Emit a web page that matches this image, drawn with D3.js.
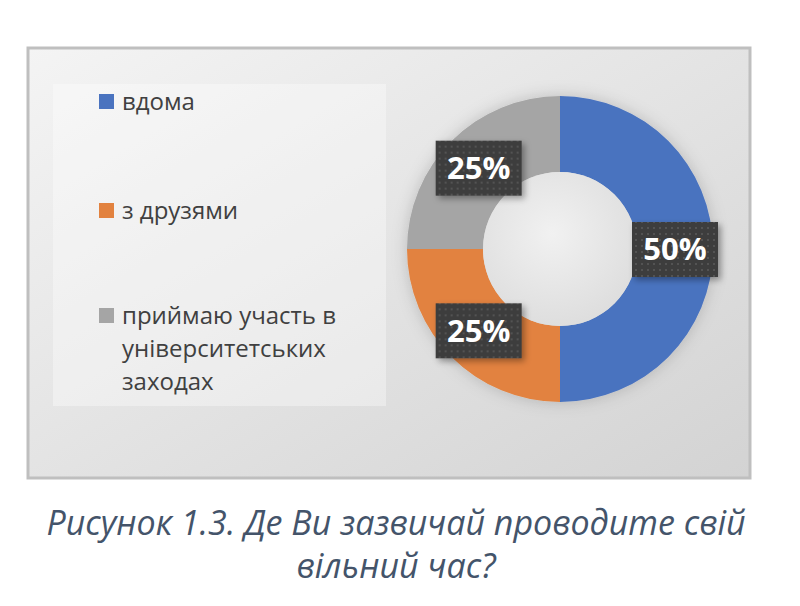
<!DOCTYPE html>
<html>
<head>
<meta charset="utf-8">
<script src="https://cdn.jsdelivr.net/npm/d3@7"></script>
<style>
  body { margin: 0; background: #fff; }
  svg { display: block; }
</style>
</head>
<body>
<svg id="chart"></svg>
<script>
// data
const categories = ["вдома", "з друзями", "приймаю участь в університетських заходах"];
const legendLines = [["вдома"], ["з друзями"], ["приймаю участь в", "університетських", "заходах"]];
const values = [50, 25, 25];
const colors = ["#4a73bf", "#e2823f", "#a5a5a5"];
const captionLines = ["Рисунок 1.3. Де Ви зазвичай проводите свій", "вільний час?"];

const width = 800, height = 606;
const svg = d3.select("#chart").attr("width", width).attr("height", height);
const defs = svg.append("defs");

// chart area background
const bg = defs.append("linearGradient").attr("id", "bgGrad")
    .attr("x1", "0").attr("y1", "0").attr("x2", "1").attr("y2", "1");
bg.append("stop").attr("offset", "0%").attr("stop-color", "#f4f4f4");
bg.append("stop").attr("offset", "100%").attr("stop-color", "#d3d3d3");

const hole = defs.append("radialGradient").attr("id", "holeGrad")
    .attr("cx", "0.45").attr("cy", "0.4").attr("r", "0.6");
hole.append("stop").attr("offset", "0%").attr("stop-color", "#f1f1f1");
hole.append("stop").attr("offset", "100%").attr("stop-color", "#dedede");

const shadow = defs.append("filter").attr("id", "shadow")
    .attr("x", "-20%").attr("y", "-20%").attr("width", "150%").attr("height", "150%");
shadow.append("feDropShadow").attr("dx", 3).attr("dy", 3).attr("stdDeviation", 3)
    .attr("flood-color", "#000").attr("flood-opacity", 0.35);

const donutShadow = defs.append("filter").attr("id", "donutShadow")
    .attr("x", "-20%").attr("y", "-20%").attr("width", "140%").attr("height", "140%");
donutShadow.append("feDropShadow").attr("dx", 0).attr("dy", 0).attr("stdDeviation", 8)
    .attr("flood-color", "#000").attr("flood-opacity", 0.18);

const dots = defs.append("pattern").attr("id", "dots")
    .attr("width", 6).attr("height", 6).attr("patternUnits", "userSpaceOnUse");
dots.append("rect").attr("width", 6).attr("height", 6).attr("fill", "#3d3d3d");
dots.append("rect").attr("x", 2).attr("y", 2).attr("width", 2).attr("height", 2).attr("fill", "#535353");

svg.append("rect")
    .attr("x", 28).attr("y", 48).attr("width", 722).attr("height", 430)
    .attr("fill", "url(#bgGrad)")
    .attr("stroke", "#bfbfbf").attr("stroke-width", 3);

// legend
const legend = svg.append("g");
legend.append("rect")
    .attr("x", 53).attr("y", 84).attr("width", 333).attr("height", 322)
    .attr("fill", "#fff").attr("opacity", 0.35);

const legendY = [94, 203, 308];
const items = legend.selectAll(".item")
    .data(categories)
    .join("g")
    .attr("class", "item")
    .attr("transform", (d, i) => `translate(99, ${legendY[i]})`);

items.append("rect")
    .attr("width", 15).attr("height", 15)
    .attr("fill", (d, i) => colors[i]);

items.each(function (d, i) {
    d3.select(this).selectAll("text")
        .data(legendLines[i])
        .join("text")
        .attr("x", 23)
        .attr("y", (t, j) => 16 + j * 33)
        .attr("font-family", "Open Sans, sans-serif")
        .attr("font-size", 24)
        .attr("fill", "#404040")
        .text(t => t);
});

// donut
const cx = 560, cy = 249, rOuter = 153, rInner = 77;
const pie = d3.pie().sort(null).value(d => d);
const arcs = pie(values);
const arc = d3.arc().innerRadius(rInner).outerRadius(rOuter);

const g = svg.append("g").attr("transform", `translate(${cx}, ${cy})`);

g.append("g").attr("filter", "url(#donutShadow)")
    .selectAll("path")
    .data(arcs)
    .join("path")
    .attr("d", arc)
    .attr("fill", (d, i) => colors[i]);

g.append("circle").attr("r", rInner).attr("fill", "url(#holeGrad)");

const labels = g.selectAll(".label")
    .data(arcs)
    .join("g")
    .attr("class", "label")
    .attr("transform", d => {
        const [x, y] = arc.centroid(d);
        return `translate(${x}, ${y})`;
    });

labels.append("rect")
    .attr("x", -43).attr("y", -27).attr("width", 86).attr("height", 55)
    .attr("fill", "url(#dots)")
    .attr("filter", "url(#shadow)");

labels.append("text")
    .attr("text-anchor", "middle")
    .attr("dy", "0.37em")
    .attr("font-family", "Open Sans, sans-serif")
    .attr("font-weight", "bold")
    .attr("font-size", 31)
    .attr("fill", "#fff")
    .text(d => d.data + "%");

// caption
svg.append("g").selectAll("text")
    .data(captionLines)
    .join("text")
    .attr("x", 396)
    .attr("y", (d, i) => 535 + i * 43)
    .attr("text-anchor", "middle")
    .attr("font-family", "Open Sans, sans-serif")
    .attr("font-style", "italic")
    .attr("font-size", 34)
    .attr("fill", "#44546a")
    .text(d => d);
</script>
</body>
</html>
